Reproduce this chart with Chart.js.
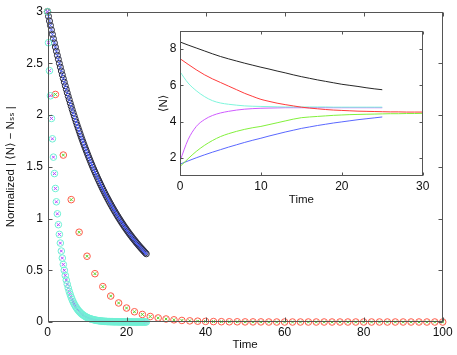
<!DOCTYPE html>
<html>
<head>
<meta charset="utf-8">
<script src="https://cdn.jsdelivr.net/npm/chart.js@4.4.1/dist/chart.umd.min.js"></script>
<style>
  html, body { margin: 0; padding: 0; background: #fff; }
  #wrap { position: relative; width: 457px; height: 355px; }
  #main { position: absolute; left: 0; top: 0; width: 457px; height: 355px; }
  #inset { position: absolute; left: 150px; top: 20px; width: 285px; height: 192px; }
</style>
</head>
<body>
<div id="wrap">
  <div id="main"><canvas id="mainChart"></canvas></div>
  <div id="inset"><canvas id="insetChart"></canvas></div>
</div>
<script>
// --- datos del panel principal (valores normalizados) ---
const tFine = [0,0.25,0.5,0.75,1,1.25,1.5,1.75,2,2.25,2.5,2.75,3,3.25,3.5,3.75,4,4.25,4.5,4.75,5,5.25,5.5,5.75,6,6.25,6.5,6.75,7,7.25,7.5,7.75,8,8.25,8.5,8.75,9,9.25,9.5,9.75,10,10.25,10.5,10.75,11,11.25,11.5,11.75,12,12.25,12.5,12.75,13,13.25,13.5,13.75,14,14.25,14.5,14.75,15,15.25,15.5,15.75,16,16.25,16.5,16.75,17,17.25,17.5,17.75,18,18.25,18.5,18.75,19,19.25,19.5,19.75,20,20.25,20.5,20.75,21,21.25,21.5,21.75,22,22.25,22.5,22.75,23,23.25,23.5,23.75,24,24.25,24.5,24.75,25];

const blackNorm = [3.000,2.955,2.910,2.867, 2.824,2.781,2.739,2.698, 2.658,2.618,2.578,2.540,
  2.501,2.464,2.427,2.390, 2.354,2.319,2.284,2.250, 2.216,2.182,2.150,2.117,
  2.086,2.054,2.023,1.993, 1.963,1.933,1.904,1.876, 1.848,1.820,1.792,1.765,
  1.739,1.713,1.687,1.662, 1.637,1.612,1.588,1.564, 1.540,1.517,1.494,1.472,
  1.450,1.428,1.407,1.385, 1.365,1.344,1.324,1.304, 1.284,1.265,1.246,1.227,
  1.209,1.191,1.173,1.155, 1.138,1.121,1.104,1.087, 1.071,1.055,1.039,1.023,
  1.008,0.993,0.978,0.963, 0.949,0.934,0.920,0.906, 0.893,0.879,0.866,0.853,
  0.840,0.828,0.815,0.803, 0.791,0.779,0.767,0.756, 0.744,0.733,0.722,0.711,
  0.701,0.690,0.680,0.669, 0.659];

const cyanNorm = [3.000,2.700,2.430,2.187, 1.968,1.771,1.594,1.435, 1.291,1.162,1.046,0.941,
  0.847,0.763,0.686,0.618, 0.556,0.500,0.450,0.405, 0.365,0.328,0.295,0.266,
  0.239,0.215,0.194,0.174, 0.157,0.141,0.127,0.114, 0.103,0.093,0.083,0.075,
  0.068,0.061,0.055,0.049, 0.044,0.040,0.036,0.032, 0.029,0.026,0.024,0.021,
  0.019,0.017,0.015,0.014, 0.012,0.011,0.010,0.009, 0.008,0.007,0.006,0.006,
  0.005,0.004,0.004,0.004, 0.003,0.003,0.003,0.002, 0.002,0.002,0.002,0.002,
  0.001,0.001,0.001,0.001, 0.001,0.001,0.001,0.001, 0.001,0.001,0.001,0.001,
  0,0,0,0, 0,0,0,0, 0,0,0,0, 0,0,0,0, 0];

const tCoarse = [0,2,4,6,8,10,12,14,16,18,20,22,24,26,28,30,32,34,36,38,40,42,44,46,48,50,
  52,54,56,58,60,62,64,66,68,70,72,74,76,78,80,82,84,86,88,90,92,94,96,98,100];

const redNorm = [3.000,2.200,1.614,1.183,0.868,0.636,0.467,0.342,0.251,0.184,0.135,0.099,0.073,
  0.053,0.039,0.029,0.021,0.015,0.011,0.008,0.006,0.004,0.003,0.002,0.002,0.001,0.001,0.001,
  0,0,0,0,0,0,0,0,0,0,0,0,0,0,0,0,0,0,0,0,0,0,0];

const mainXTicks = [0, 20, 40, 60, 80, 100];
const mainYTicks = [0, 0.5, 1, 1.5, 2, 2.5, 3];

// --- datos del recuadro (<N> frente al tiempo) ---
const tInset25 = [0,1,2,3,4,5,6,7,8,9,10,11,12,13,14,15,16,17,18,19,20,21,22,23,24,25];
const tInset30 = [0,1,2,3,4,5,6,7,8,9,10,11,12,13,14,15,16,17,18,19,20,21,22,23,24,25,26,27,28,29,30];

const insetBlack = [8.38,8.21,8.05,7.89,7.73,7.58,7.45,7.33,7.21,7.10,6.99,6.89,6.78,6.68,6.57,6.47,6.38,6.29,6.21,6.13,6.05,5.99,5.93,5.86,5.80,5.75];
const insetBlue = [1.65,1.83,2.00,2.16,2.31,2.45,2.59,2.72,2.85,2.97,3.08,3.20,3.31,3.42,3.52,3.62,3.70,3.78,3.85,3.92,3.98,4.04,4.10,4.15,4.20,4.25];
const insetCyan = [6.74,6.12,5.70,5.38,5.15,5.02,4.95,4.90,4.86,4.84,4.83,4.82,4.81,4.80,4.80,4.80,4.80,4.80,4.80,4.79,4.79,4.79,4.79,4.79,4.79,4.79];
const insetMagenta = [1.82,3.00,3.72,4.10,4.33,4.47,4.56,4.63,4.68,4.71,4.73,4.74,4.75,4.76,4.76,4.76,4.76,4.76,4.76,4.76,4.76,4.76,4.76,4.76,4.76,4.76];
const insetRed = [7.46,7.15,6.85,6.58,6.35,6.15,5.95,5.75,5.55,5.38,5.22,5.11,5.01,4.93,4.86,4.79,4.74,4.70,4.66,4.63,4.61,4.59,4.57,4.56,4.55,4.54,4.53,4.53,4.52,4.52,4.52];
const insetGreen = [1.52,1.95,2.35,2.68,2.95,3.17,3.33,3.46,3.57,3.66,3.73,3.83,3.93,4.03,4.13,4.21,4.25,4.28,4.31,4.34,4.36,4.38,4.39,4.40,4.41,4.42,4.43,4.43,4.44,4.44,4.45];

const insetXTicks = [0, 10, 20, 30];
const insetYTicks = [2, 4, 6, 8];

const FUENTE = '"Liberation Sans", Arial, "DejaVu Sans", sans-serif';

// caja estilo MATLAB con marcas hacia dentro
const marcoMatlab = {
  id: 'marcoMatlab',
  beforeDraw(chart, args, opts) {
    const { ctx, chartArea: a } = chart;
    if (opts.fill) {
      ctx.save();
      ctx.fillStyle = opts.fill;
      ctx.fillRect(a.left, a.top, a.right - a.left, a.bottom - a.top);
      ctx.restore();
    }
  },
  afterDraw(chart, args, opts) {
    const { ctx, chartArea: a, scales } = chart;
    const L = Math.round(a.left) + 0.5, R = Math.round(a.right) - 0.5;
    const T = Math.round(a.top) + 0.5, B = Math.round(a.bottom) - 0.5;
    const len = opts.len || 4;
    ctx.save();
    ctx.strokeStyle = opts.color || '#555';
    ctx.lineWidth = 1;
    ctx.strokeRect(L, T, R - L, B - T);
    ctx.beginPath();
    scales.x.ticks.forEach(t => {
      const px = Math.round(scales.x.getPixelForValue(t.value)) + 0.5;
      ctx.moveTo(px, B); ctx.lineTo(px, B - len);
      ctx.moveTo(px, T); ctx.lineTo(px, T + len);
    });
    scales.y.ticks.forEach(t => {
      const py = Math.round(scales.y.getPixelForValue(t.value)) + 0.5;
      ctx.moveTo(L, py); ctx.lineTo(L + len, py);
      ctx.moveTo(R, py); ctx.lineTo(R - len, py);
    });
    ctx.stroke();
    ctx.restore();
  }
};

function puntos(xs, ys) {
  return xs.map((x, i) => ({ x: x, y: ys[i] }));
}

function serieMarcas(xs, ys, estilo, color, radio, orden) {
  return {
    data: puntos(xs, ys),
    showLine: false,
    pointStyle: estilo,
    pointRadius: radio,
    pointHoverRadius: radio,
    pointBorderColor: color,
    pointBackgroundColor: 'rgba(0,0,0,0)',
    pointBorderWidth: 1,
    clip: false,
    order: orden
  };
}

function serieLinea(xs, ys, color) {
  return {
    data: puntos(xs, ys),
    showLine: true,
    borderColor: color,
    borderWidth: 1,
    pointRadius: 0,
    cubicInterpolationMode: 'monotone',
    fill: false
  };
}

const ejeComun = (ticksFijos, min, max) => ({
  type: 'linear',
  min: min,
  max: max,
  afterBuildTicks: s => { s.ticks = ticksFijos.map(v => ({ value: v })); },
  grid: { display: false, drawTicks: false },
  border: { display: false },
  ticks: { color: '#111', font: { family: FUENTE, size: 12 }, callback: v => String(v) }
});

// --- gráfico principal ---
const ejeXMain = ejeComun(mainXTicks, 0, 100);
ejeXMain.ticks.padding = 3;
ejeXMain.title = { display: true, text: 'Time', color: '#111', font: { family: FUENTE, size: 11.5 }, padding: { top: 0, bottom: 3 } };
ejeXMain.afterFit = s => { s.height = 33; };

const ejeYMain = ejeComun(mainYTicks, 0, 3);
ejeYMain.ticks.padding = 4.5;
ejeYMain.title = { display: true, text: 'Normalized | \u27E8N\u27E9 \u2212 N\u209B\u209B |', color: '#111', font: { family: FUENTE, size: 11.5 }, padding: { top: 4, bottom: 0 } };
ejeYMain.afterFit = s => { s.width = 47.5; };

new Chart(document.getElementById('mainChart'), {
  type: 'scatter',
  data: {
    datasets: [
      serieMarcas(tCoarse, redNorm, 'circle', '#ff5a48', 3.3, 5),
      serieMarcas(tCoarse, redNorm, 'crossRot', '#5cd12c', 2, 4),
      serieMarcas(tFine, blackNorm, 'circle', '#2a2a3a', 3, 3),
      serieMarcas(tFine, blackNorm, 'crossRot', '#4a5cff', 2, 2),
      serieMarcas(tFine, cyanNorm, 'circle', '#6ff0d4', 3.3, 0),
      serieMarcas(tFine, cyanNorm, 'crossRot', '#b044ff', 2, 1)
    ]
  },
  options: {
    responsive: true,
    maintainAspectRatio: false,
    animation: false,
    layout: { padding: { top: 11, right: 14.3, left: 0, bottom: 0 } },
    scales: { x: ejeXMain, y: ejeYMain },
    plugins: {
      legend: { display: false },
      tooltip: { enabled: false },
      marcoMatlab: { color: '#555', len: 4 }
    }
  },
  plugins: [marcoMatlab]
});

// --- recuadro ---
const ejeXInset = ejeComun(insetXTicks, 0, 30);
ejeXInset.ticks.padding = 3;
ejeXInset.title = { display: true, text: 'Time', color: '#111', font: { family: FUENTE, size: 11.5 }, padding: { top: 0, bottom: 5 } };
ejeXInset.afterFit = s => { s.height = 36; };

const ejeYInset = ejeComun(insetYTicks, 1, 9);
ejeYInset.ticks.padding = 3.5;
ejeYInset.title = { display: true, text: '\u27E8N\u27E9', color: '#111', font: { family: FUENTE, size: 11.5 }, padding: { top: 7, bottom: 0 } };
ejeYInset.afterFit = s => { s.width = 30; };

new Chart(document.getElementById('insetChart'), {
  type: 'scatter',
  data: {
    datasets: [
      serieLinea(tInset25, insetBlack, '#262626'),
      serieLinea(tInset30, insetRed, '#ff3b3b'),
      serieLinea(tInset25, insetCyan, '#7ff5dc'),
      serieLinea(tInset25, insetMagenta, '#cf5cff'),
      serieLinea(tInset30, insetGreen, '#82f03c'),
      serieLinea(tInset25, insetBlue, '#5a68ff')
    ]
  },
  options: {
    responsive: true,
    maintainAspectRatio: false,
    animation: false,
    layout: { padding: { top: 9, right: 12.3, left: 0, bottom: 0 } },
    scales: { x: ejeXInset, y: ejeYInset },
    plugins: {
      legend: { display: false },
      tooltip: { enabled: false },
      marcoMatlab: { color: '#555', len: 3, fill: '#ffffff' }
    }
  },
  plugins: [marcoMatlab]
});
</script>
</body>
</html>
